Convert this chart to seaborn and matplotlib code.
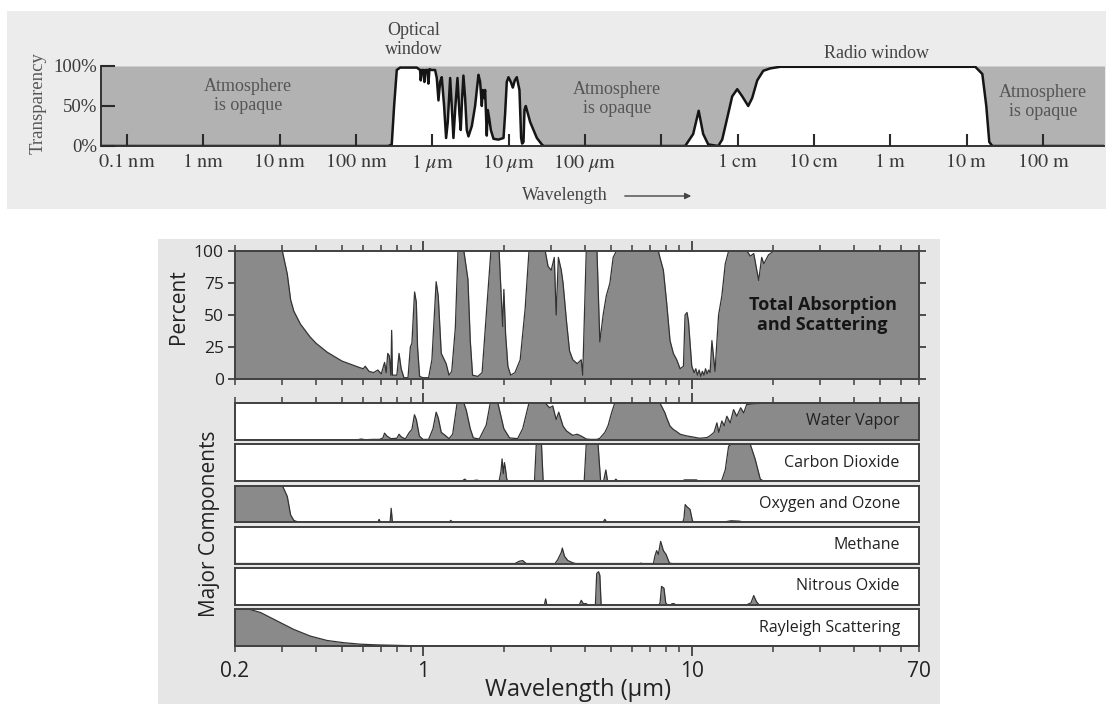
import numpy as np
import matplotlib
matplotlib.use("Agg")
import matplotlib.pyplot as plt
from matplotlib.patches import Rectangle, FancyArrowPatch
from matplotlib.ticker import FixedLocator, FuncFormatter, NullLocator
import seaborn as sns

# ---------------- data: top panel (atmospheric transparency) ----------------
top_log_wavelength_m = [
    -10.4, -6.575, -6.531, -6.500, -6.465, -6.422, -6.203, -6.160, -6.151, -6.138,
    -6.116, -6.103, -6.090, -6.064, -6.051, -6.037, -6.007, -5.963, -5.941, -5.919,
    -5.898, -5.876, -5.845, -5.819, -5.797, -5.766, -5.745, -5.723, -5.697, -5.670,
    -5.644, -5.627, -5.609, -5.592, -5.570, -5.548, -5.526, -5.482, -5.439, -5.395,
    -5.373, -5.351, -5.338, -5.321, -5.308, -5.286, -5.273, -5.255, -5.233, -5.198,
    -5.133, -5.067, -5.046, -5.024, -5.002, -4.971, -4.945, -4.919, -4.893, -4.858,
    -4.836, -4.823, -4.805, -4.792, -4.775, -4.718, -4.630, -4.565, -4.543,
    -2.687, -2.582, -2.510, -2.451, -2.385, -2.254, -2.202, -2.136, -2.071, -2.005,
    -1.939, -1.861, -1.809, -1.743, -1.664, -1.573, -1.442, 1.114, 1.206, 1.258,
    1.297, 1.337, 2.9]
top_transparency_pct = [
    0, 0, 2, 50, 95, 98, 98, 95, 82, 95,
    95, 80, 95, 95, 78, 96, 95, 95, 85, 57,
    80, 86, 50, 10, 30, 85, 50, 10, 50, 85,
    40, 20, 60, 88, 60, 20, 12, 25, 50, 89,
    80, 50, 70, 60, 70, 13, 45, 35, 20, 9,
    8, 10, 40, 80, 86, 80, 73, 82, 86, 70,
    10, 3, 5, 45, 50, 30, 10, 2, 0,
    0, 15, 44, 15, 2, 0, 8, 35, 62, 71,
    62, 50, 60, 82, 94, 97, 99, 99, 90, 50,
    5, 0, 0]
top_tick_exponents = list(range(-10, 3))
top_tick_labels = [r"$\mathrm{0.1\ nm}$", r"$\mathrm{1\ nm}$", r"$\mathrm{10\ nm}$",
                   r"$\mathrm{100\ nm}$", r"$\mathrm{1\ }\mu\mathrm{m}$",
                   r"$\mathrm{10\ }\mu\mathrm{m}$", r"$\mathrm{100\ }\mu\mathrm{m}$", "",
                   r"$\mathrm{1\ cm}$", r"$\mathrm{10\ cm}$", r"$\mathrm{1\ m}$",
                   r"$\mathrm{10\ m}$", r"$\mathrm{100\ m}$"]

# ---------------- data: bottom panel (absorption, wavelength in µm) ----------------
total_wl = [0.2, 0.30, 0.313, 0.322, 0.331, 0.35, 0.38, 0.40, 0.44, 0.50, 0.58, 0.60, 0.61,
            0.63, 0.655, 0.68, 0.70, 0.72, 0.73, 0.74, 0.75, 0.76, 0.765, 0.77, 0.80, 0.815,
            0.83, 0.85, 0.88, 0.898, 0.91, 0.931, 0.945, 0.955, 0.972, 1.0, 1.05, 1.08, 1.12,
            1.14, 1.17, 1.22, 1.25, 1.28, 1.32, 1.35, 1.42, 1.47, 1.5, 1.53, 1.6, 1.66, 1.72,
            1.79, 1.92, 1.95, 1.98, 2.0, 2.03, 2.07, 2.12, 2.2, 2.3, 2.4, 2.48, 2.85, 2.92,
            3.0, 3.08, 3.13, 3.19, 3.27, 3.32, 3.42, 3.51, 3.61, 3.75, 3.88, 3.93, 4.05, 4.44,
            4.55, 4.68, 4.81, 4.96, 5.1, 5.24, 7.51, 7.61, 7.84, 8.06, 8.3, 8.54, 8.79, 9.05,
            9.31, 9.44, 9.6, 9.72, 10.0, 10.2, 10.35, 10.5, 10.65, 10.8, 10.95, 11.1, 11.25,
            11.4, 11.55, 11.7, 11.88, 12.2, 12.58, 12.94, 13.32, 13.71, 16.05, 16.5, 17.0,
            17.73, 18.2, 18.53, 19.3, 20.2, 70]
total_pct = [100, 100, 82, 62, 53, 43, 33, 28, 21, 14, 9, 8, 10,
             6, 5, 7, 4, 13, 5, 20, 18, 3, 38, 3, 3, 20,
             8, 1, 1, 25, 28, 68, 60, 25, 2, 1, 1, 15, 76,
             65, 20, 12, 3, 6, 40, 100, 100, 78, 30, 3, 2, 5, 50,
             100, 100, 70, 41, 70, 35, 10, 3, 5, 15, 55, 100, 100, 88,
             85, 95, 50, 95, 85, 75, 45, 22, 15, 12, 15, 3, 100, 100,
             29, 50, 65, 75, 95, 100, 100, 95, 85, 60, 30, 20, 15, 8,
             10, 50, 52, 45, 10, 5, 8, 3, 7, 2, 6, 3, 8,
             4, 7, 5, 30, 6, 50, 65, 90, 100, 100, 96, 98,
             77, 95, 90, 97, 100, 100]

water_wl = [0.2, 0.57, 0.59, 0.61, 0.65, 0.69, 0.71, 0.72, 0.735, 0.76, 0.80, 0.815, 0.83,
            0.86, 0.89, 0.91, 0.93, 0.945, 0.97, 1.0, 1.05, 1.09, 1.12, 1.14, 1.17, 1.21,
            1.25, 1.29, 1.34, 1.42, 1.45, 1.5, 1.54, 1.62, 1.72, 1.78, 1.9, 2.0, 2.1, 2.25,
            2.35, 2.48, 2.85, 2.96, 3.04, 3.13, 3.2, 3.32, 3.42, 3.51, 3.61, 3.75, 3.88,
            4.05, 4.2, 4.44, 4.55, 4.75, 4.88, 5.03, 5.17, 7.61, 7.95, 8.06, 8.3, 8.54,
            8.79, 9.05, 9.5, 10.0, 10.7, 11.4, 11.7, 12.1, 12.4, 12.6, 12.94, 13.2, 13.5,
            13.9, 14.3, 14.7, 15.2, 15.6, 16.0, 17.3, 18.5, 20.2, 70]
water_pct = [0, 0, 2, 0, 1, 1, 5, 18, 10, 3, 4, 15, 8,
             2, 20, 28, 68, 55, 10, 1, 1, 30, 75, 60, 20, 12,
             3, 15, 100, 100, 80, 30, 5, 2, 40, 100, 100, 30, 5, 3,
             30, 100, 100, 87, 92, 55, 75, 37, 24, 18, 12, 15, 10,
             2, 1, 1, 4, 20, 38, 73, 100, 100, 73, 60, 37, 28,
             22, 15, 11, 8, 4, 6, 11, 20, 46, 20, 51, 38, 64,
             46, 82, 64, 87, 73, 96, 98, 100, 100, 100]

co2_wl = [0.2, 1.40, 1.43, 1.46, 1.54, 1.56, 1.6, 1.62, 1.92, 1.95, 1.97, 1.99, 2.01, 2.03,
          2.05, 2.07, 2.6, 2.64, 2.76, 2.8, 3.98, 4.05, 4.48, 4.58, 4.7, 4.79, 4.86, 5.15,
          5.22, 5.3, 9.2, 9.4, 10.4, 10.6, 12.9, 13.32, 13.71, 14.1, 16.5, 17.2, 17.98,
          18.5, 70]
co2_pct = [0, 0, 5, 0, 0, 2, 2, 0, 0, 25, 60, 20, 50, 30,
           5, 0, 0, 100, 100, 0, 0, 100, 100, 0, 0, 30, 0, 0,
           5, 0, 0, 3, 3, 0, 0, 30, 95, 100, 100, 60, 5,
           0, 0]

ozone_wl = [0.2, 0.30, 0.313, 0.322, 0.331, 0.345, 0.68, 0.687, 0.695, 0.755, 0.762, 0.77,
            1.25, 1.27, 1.29, 4.68, 4.75, 4.82, 9.25, 9.35, 9.45, 9.6, 9.85, 10.05, 10.15,
            13.0, 14.0, 15.0, 15.8, 70]
ozone_pct = [100, 100, 70, 20, 5, 0, 0, 8, 0, 0, 38, 0,
             0, 5, 0, 0, 8, 0, 0, 10, 48, 42, 35, 5, 0,
             0, 4, 3, 0, 0]

methane_wl = [0.2, 2.2, 2.28, 2.35, 2.42, 3.1, 3.17, 3.27, 3.30, 3.36, 3.46, 3.61, 3.7, 6.4,
              6.45, 6.55, 7.2, 7.29, 7.40, 7.51, 7.66, 7.84, 8.02, 8.25, 8.4, 70]
methane_pct = [0, 0, 6, 8, 0, 0, 10, 30, 42, 20, 8, 2, 0, 0,
               1, 0, 0, 20, 35, 25, 60, 35, 25, 2, 0, 0]

n2o_wl = [0.2, 2.83, 2.86, 2.89, 3.82, 3.88, 3.95, 4.05, 4.1, 4.38, 4.43, 4.50, 4.55, 4.6,
          7.55, 7.62, 7.72, 7.88, 8.0, 8.1, 8.35, 8.45, 8.6, 8.7, 16.0, 16.6, 17.0, 17.4,
          17.8, 70]
n2o_pct = [0, 0, 16, 0, 0, 12, 3, 3, 0, 0, 85, 90, 80, 0,
           0, 5, 50, 45, 5, 0, 0, 3, 3, 0, 0, 5, 25, 8,
           0, 0]

rayleigh_wl = [0.2, 0.226, 0.249, 0.287, 0.331, 0.381, 0.44, 0.507, 0.584, 0.674, 0.776, 1.0, 70]
rayleigh_pct = [100, 100, 91, 68, 45, 27, 15, 9, 5, 3, 2, 0, 0]

strip_names = ["Water Vapor", "Carbon Dioxide", "Oxygen and Ozone", "Methane",
               "Nitrous Oxide", "Rayleigh Scattering"]
strip_wl = [water_wl, co2_wl, ozone_wl, methane_wl, n2o_wl, rayleigh_wl]
strip_pct = [water_pct, co2_pct, ozone_pct, methane_pct, n2o_pct, rayleigh_pct]

bottom_minor_ticks = [0.2, 0.3, 0.4, 0.5, 0.6, 0.7, 0.8, 0.9, 2, 3, 4, 5, 6, 7, 8, 9,
                      20, 30, 40, 50, 60, 70]
bottom_major_ticks = [1, 10]
percent_ticks = [0, 25, 50, 75, 100]

# ---------------- style ----------------
sns.set_theme(style="white")
plt.rcParams['font.family'] = ['Open Sans', 'DejaVu Sans']
plt.rcParams['mathtext.fontset'] = 'stix'
SERIF = ['Liberation Serif', 'DejaVu Serif']

W, H = 1108, 704
fig = plt.figure(figsize=(W / 100, H / 100), dpi=100)
fig.patch.set_facecolor('white')


def fx(px):
    return px / W


def fy(py):
    return 1 - py / H


fig.add_artist(Rectangle((fx(7), fy(209)), fx(1106) - fx(7), fy(11) - fy(209),
                         transform=fig.transFigure, facecolor='#ececec',
                         edgecolor='none', zorder=-5))
fig.add_artist(Rectangle((fx(158), 0), fx(940) - fx(158), fy(239),
                         transform=fig.transFigure, facecolor='#e6e6e6',
                         edgecolor='none', zorder=-5))

# ---------------- top panel ----------------
TXT = '#3a3a3a'
ax_t = fig.add_axes([fx(101), fy(146), fx(1104) - fx(101), fy(66) - fy(146)])
ax_t.set_facecolor('none')
ax_t.set_axisbelow(False)
lam = 10 ** np.array(top_log_wavelength_m)
trans = np.array(top_transparency_pct, dtype=float)
ax_t.fill_between(lam, trans, 100, color='#b2b2b2', lw=0)
ax_t.fill_between(lam, 0, trans, color='white', lw=0)
sns.lineplot(x=lam, y=trans, ax=ax_t, color='#151515', lw=1.8,
             estimator=None, sort=False)
ax_t.set_xscale('log')
ax_t.set_xlim(10 ** -10.34, 10 ** 2.8)
ax_t.set_ylim(0, 100)
ax_t.xaxis.set_major_locator(FixedLocator([10.0 ** e for e in top_tick_exponents]))
ax_t.xaxis.set_minor_locator(NullLocator())
ax_t.set_xticklabels(top_tick_labels, fontsize=14.5, color=TXT)
ax_t.set_yticks([0, 50, 100])
ax_t.set_yticklabels(['0%', '50%', '100%'], fontfamily=SERIF, fontsize=13.5, color=TXT)
ax_t.tick_params(axis='x', direction='in', length=9, width=1.5, color='#2a2a2a', pad=4,
                 bottom=True)
ax_t.tick_params(axis='y', direction='in', length=10, width=1.5, color='#2a2a2a', pad=3,
                 left=True)
for s in ['top', 'right']:
    ax_t.spines[s].set_visible(False)
for s in ['left', 'bottom']:
    ax_t.spines[s].set_color('#333333')
    ax_t.spines[s].set_linewidth(1.4)
ax_t.set_xlabel('')
ax_t.set_ylabel('')

fig.text(fx(38), fy(103), 'Transparency', rotation=90, ha='center', va='center',
         fontfamily=SERIF, fontsize=13.5, color='#555555')
fig.text(fx(414), fy(40), 'Optical\nwindow', ha='center', va='center',
         fontfamily=SERIF, fontsize=13, color='#444444', linespacing=1.2)
fig.text(fx(877), fy(54), 'Radio window', ha='center', va='center',
         fontfamily=SERIF, fontsize=13, color='#444444')
for cx, cy in [(248, 96), (617, 99), (1043, 102)]:
    fig.text(fx(cx), fy(cy), 'Atmosphere\nis opaque', ha='center', va='center',
             fontfamily=SERIF, fontsize=13, color='#555555', linespacing=1.2)
fig.text(fx(522), fy(195), 'Wavelength', ha='left', va='center',
         fontfamily=SERIF, fontsize=13, color='#444444')
fig.add_artist(FancyArrowPatch((fx(622), fy(196)), (fx(694), fy(196)),
                               transform=fig.transFigure, arrowstyle='-|>',
                               mutation_scale=9, lw=1.0, color='#444444'))

# ---------------- bottom panel ----------------
FILL = '#8a8a8a'
LINE = '#333333'
SPINE = '#404040'


def style_x(ax, top=False, bottom=False, labels=False):
    ax.set_xscale('log')
    ax.set_xlim(0.2, 70)
    ax.xaxis.set_major_locator(FixedLocator(bottom_major_ticks))
    ax.xaxis.set_minor_locator(FixedLocator(bottom_minor_ticks))
    if labels:
        ax.xaxis.set_major_formatter(FuncFormatter(lambda v, p: f"{v:g}"))
        ax.xaxis.set_minor_formatter(FuncFormatter(
            lambda v, p: f"{v:g}" if (abs(v - 0.2) < 1e-9 or abs(v - 70) < 1e-9) else ""))
    else:
        ax.xaxis.set_major_formatter(FuncFormatter(lambda v, p: ""))
        ax.xaxis.set_minor_formatter(FuncFormatter(lambda v, p: ""))
    ax.tick_params(axis='x', which='major', direction='out', length=7, width=1.3,
                   color=SPINE, top=top, bottom=bottom, labelbottom=labels,
                   labelsize=15, pad=4, labelcolor='#222222')
    ax.tick_params(axis='x', which='minor', direction='out', length=4, width=1.1,
                   color=SPINE, top=top, bottom=bottom, labelbottom=labels,
                   labelsize=15, pad=7, labelcolor='#222222')
    for s in ax.spines.values():
        s.set_color(SPINE)
        s.set_linewidth(1.4)


ax_m = fig.add_axes([fx(235), fy(379), fx(919) - fx(235), fy(251) - fy(379)])
ax_m.set_facecolor('white')
ax_m.fill_between(total_wl, 0, total_pct, color=FILL, lw=0)
sns.lineplot(x=total_wl, y=total_pct, ax=ax_m, color=LINE, lw=0.9,
             estimator=None, sort=False)
style_x(ax_m, top=True, bottom=True, labels=False)
ax_m.set_ylim(0, 100)
ax_m.set_yticks(percent_ticks)
ax_m.set_yticklabels([str(v) for v in percent_ticks])
ax_m.tick_params(axis='y', direction='out', length=5, width=1.3, color=SPINE,
                 left=True, right=True, labelsize=12.5, pad=3, labelcolor='#222222')
ax_m.set_xlabel('')
ax_m.set_ylabel('')
ax_m.text(0.859, 0.5, 'Total Absorption\nand Scattering', transform=ax_m.transAxes,
          ha='center', va='center', fontsize=13, fontweight='bold', color='#151515',
          linespacing=1.15)

strip_top, strip_h, strip_gap = 403.0, 36.75, 4.5
n = len(strip_names)
for i, (name, wl, pct) in enumerate(zip(strip_names, strip_wl, strip_pct)):
    t = strip_top + i * (strip_h + strip_gap)
    ax = fig.add_axes([fx(235), fy(t + strip_h), fx(919) - fx(235), strip_h / H])
    ax.set_facecolor('white')
    ax.fill_between(wl, 0, pct, color=FILL, lw=0)
    sns.lineplot(x=wl, y=pct, ax=ax, color=LINE, lw=0.9, estimator=None, sort=False)
    style_x(ax, top=(i == 0), bottom=(i == n - 1), labels=(i == n - 1))
    ax.set_ylim(0, 100)
    ax.set_yticks([])
    ax.set_xlabel('')
    ax.set_ylabel('')
    ax.text(0.972, 0.5, name, transform=ax.transAxes, ha='right', va='center',
            fontsize=11.5, color='#222222')

fig.text(fx(178), fy(307), 'Percent', rotation=90, ha='center', va='center',
         fontsize=15, color='#222222')
fig.text(fx(210), fy(524), 'Major Components', rotation=90, ha='center', va='center',
         fontsize=15, color='#222222')
fig.text(fx(578), fy(690), 'Wavelength (\u03bcm)', ha='center', va='center',
         fontsize=17, color='#222222')

fig.savefig('out.png', dpi=100)
